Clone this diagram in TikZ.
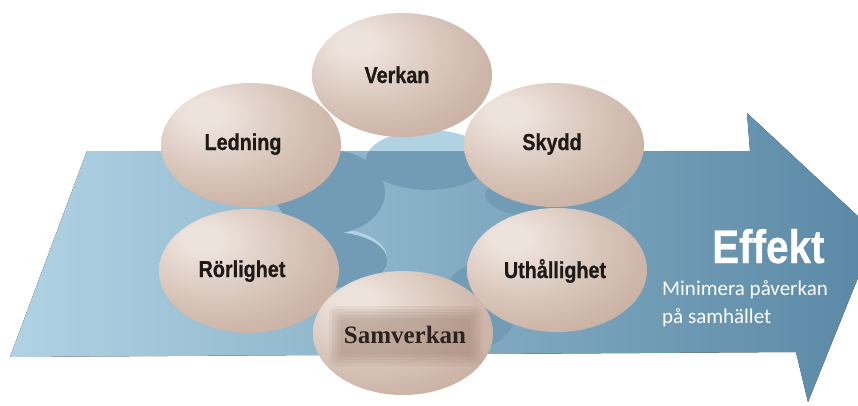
\documentclass[tikz,border=0pt]{standalone}
\usepackage{fontspec}
\setmainfont{Liberation Serif}
\newfontfamily\lblfont[FakeStretch=0.86,FakeBold=0.8]{Liberation Sans}
\newfontfamily\effont[FakeStretch=0.86,FakeBold=0.6]{Liberation Sans}
\newfontfamily\subfont{Carlito}
\usetikzlibrary{shapes.geometric}
\definecolor{sphHi}{RGB}{237,227,221}
\definecolor{sphMid}{RGB}{214,194,182}
\definecolor{sphBase}{RGB}{193,165,150}
\definecolor{sphEdge}{RGB}{150,118,102}
\definecolor{arrL}{RGB}{176,211,228}
\definecolor{arrM}{RGB}{150,192,214}
\definecolor{arrR}{RGB}{90,136,165}
\definecolor{shadowL}{RGB}{176,210,227}
\definecolor{shadowD}{RGB}{30,80,118}
\definecolor{lblC}{RGB}{30,26,24}
\definecolor{samC}{RGB}{42,35,30}
\definecolor{patchC}{RGB}{140,105,85}
\pgfdeclareradialshading{spherebody}{\pgfpoint{-14bp}{14bp}}{color(0bp)=(sphHi); color(5bp)=(sphHi); color(24bp)=(sphMid); color(44bp)=(sphBase); color(62bp)=(sphEdge); color(74bp)=(sphEdge)}
\tikzset{
  sph/.style={ellipse, minimum width=180pt, minimum height=124pt, inner sep=0pt,
    shading=spherebody},
  lbl/.style={font={\lblfont\bfseries\fontsize{23}{25}\selectfont}, text=lblC, inner sep=0pt, anchor=base},
  samlbl/.style={font={\bfseries\fontsize{25}{27}\selectfont}, text=samC, inner sep=0pt, anchor=base},
  efflbl/.style={font={\effont\bfseries\fontsize{47}{49}\selectfont}, text=white, inner sep=0pt, anchor=base west},
  sublbl/.style={font={\subfont\fontsize{21}{23}\selectfont}, text=white, inner sep=0pt, anchor=base west},
  shlight/.style={fill=shadowL},
  shdark/.style={fill=shadowD},
  patch/.style={fill=patchC, fill opacity=0.09},
}
\begin{document}
\begin{tikzpicture}[x=1pt,y=-1pt]
\useasboundingbox (0,0) rectangle (858,405);
\fill[white] (0,0) rectangle (858,405);
% arrow
\fill[left color=arrL, middle color=arrM, right color=arrR]
  (87,151) -- (750,151) -- (747,113) -- (876,233) -- (808,402) -- (796,352) -- (10,357) -- cycle;
% shadows on white
\fill[shlight] (428,160) ellipse [x radius=62, y radius=30];
\fill[shlight] (330,192) ellipse [x radius=55, y radius=42];
\fill[shlight] (330,258) ellipse [x radius=57, y radius=30];
\fill[shlight] (560,195) ellipse [x radius=75, y radius=25];
\fill[shlight] (480,305) ellipse [x radius=38, y radius=42];
% shadows on the arrow
\begin{scope}[transparency group, opacity=0.42]
  \clip (87,151) -- (750,151) -- (747,113) -- (876,233) -- (808,402) -- (796,352) -- (10,357) -- cycle;
  \fill[shdark] (428,160) ellipse [x radius=62, y radius=30];
  \fill[shdark] (330,192) ellipse [x radius=55, y radius=42];
  \fill[shdark] (330,260) ellipse [x radius=57, y radius=28];
  \fill[shdark] (560,195) ellipse [x radius=75, y radius=25];
  \fill[shdark] (480,305) ellipse [x radius=38, y radius=42];
\end{scope}
% spheres
\node[sph] (verkan) at (402,75) {};
\node[sph] (ledning) at (251,145) {};
\node[sph] (skydd) at (554,145) {};
\node[sph] (rorlighet) at (249,271) {};
\node[sph] (uthallighet) at (557,270) {};
\node[sph] (samverkan) at (403,333) {};
% soft patch behind Samverkan text
\fill[patch, rounded corners=9] (329,306) rectangle (483,366);
\fill[patch, rounded corners=7] (332,309) rectangle (480,363);
\fill[patch, rounded corners=5] (335,312) rectangle (477,360);
\fill[patch, rounded corners=4] (338,315) rectangle (474,357);
\fill[patch, rounded corners=3] (341,318) rectangle (471,354);
% labels
\node[lbl] (verkanL) at (397,83) {Verkan};
\node[lbl] (ledningL) at (243,150) {Ledning};
\node[lbl] (skyddL) at (552,150) {Skydd};
\node[lbl] (rorlighetL) at (242,277) {Rörlighet};
\node[lbl] (uthallighetL) at (555,278) {Uthållighet};
\node[samlbl] (samverkanL) at (405,343) {Samverkan};
% effect text
\node[efflbl] (effekt) at (712,263) {Effekt};
\node[sublbl] (sub1) at (662,295) {Minimera påverkan};
\node[sublbl] (sub2) at (662,323) {på samhället};
\end{tikzpicture}
\end{document}
